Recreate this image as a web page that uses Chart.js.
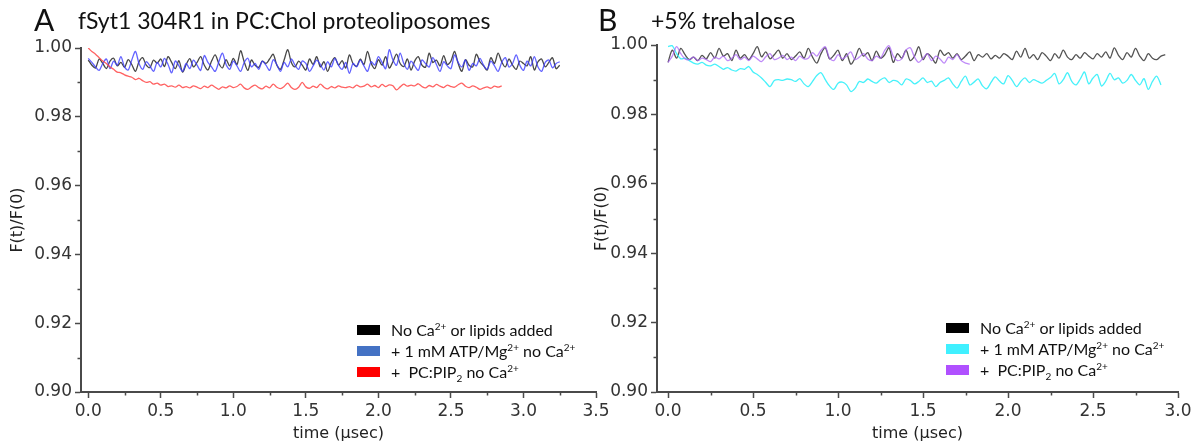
<!DOCTYPE html>
<html><head><meta charset="utf-8">
<script src="https://cdn.jsdelivr.net/npm/chart.js@4"></script>
<style>
body{margin:0;width:1196px;height:444px;background:#fff;position:relative;overflow:hidden;font-family:Lato,"Open Sans",sans-serif;color:#111}
canvas{position:absolute;top:0}
#cA{left:0}
#cB{left:590px}
.panel{position:absolute;top:2px;font-size:30px;line-height:34px}
.title{position:absolute;top:6px;font-size:23px;line-height:28px}
.legend{position:absolute;font-size:16px}
.legend .row{height:21px;display:flex;align-items:center;white-space:nowrap}
.legend .box{width:23px;height:10px;margin-right:11px;flex:none}
.sup{position:relative;top:-6px;font-size:10px}
.sub{position:relative;top:4px;font-size:10px}
</style></head>
<body>
<canvas id="cA" width="640" height="444"></canvas>
<canvas id="cB" width="606" height="444"></canvas>
<div class="panel" style="left:34px">A</div>
<div class="title" style="left:78px">fSyt1 304R1 in PC:Chol proteoliposomes</div>
<div class="panel" style="left:598px">B</div>
<div class="title" style="left:651px">+5% trehalose</div>
<div class="legend" id="legA" style="left:357px;top:319px"></div>
<div class="legend" id="legB" style="left:946px;top:317px"></div>
<script>
// ---- data (time step 0.025 µs) ----
const dt = 0.025;
const xTicksA = [0, 0.5, 1.0, 1.5, 2.0, 2.5, 3.0, 3.5];
const xMinorA = [0.25, 0.75, 1.25, 1.75, 2.25, 2.75, 3.25];
const xTicksB = [0, 0.5, 1.0, 1.5, 2.0, 2.5, 3.0];
const xMinorB = [0.25, 0.75, 1.25, 1.75, 2.25, 2.75];
const yTicks = [0.90, 0.92, 0.94, 0.96, 0.98, 1.00];
const yMinor = [0.91, 0.93, 0.95, 0.97, 0.99];

const labelsA = ['No Ca<span class="sup">2+</span> or lipids added',
  '+ 1 mM ATP/Mg<span class="sup">2+</span> no Ca<span class="sup">2+</span>',
  '+&nbsp; PC:PIP<span class="sub">2</span> no Ca<span class="sup">2+</span>'];
const labelsB = labelsA;

const blackA = [
0.9965,0.9950,0.9942,0.9968,0.9955,0.9940,0.9962,0.9970,0.9948,0.9958,
0.9944,0.9966,0.9952,0.9932,0.9960,0.9972,0.9950,0.9943,0.9965,0.9956,
0.9968,0.9946,0.9975,0.9958,0.9940,0.9963,0.9930,0.9952,0.9969,0.9945,
0.9958,0.9975,0.9950,0.9936,0.9962,0.9980,0.9955,0.9942,0.9966,0.9948,
0.9970,0.9952,0.9992,0.9960,0.9935,0.9965,0.9950,0.9944,0.9962,0.9955,
0.9968,0.9982,0.9950,0.9938,0.9965,0.9995,0.9958,0.9945,0.9962,0.9950,
0.9936,0.9968,0.9952,0.9975,0.9945,0.9960,0.9932,0.9958,0.9972,0.9950,
0.9963,0.9942,0.9980,0.9955,0.9947,0.9968,0.9952,0.9990,0.9956,0.9940,
0.9966,0.9950,0.9975,0.9942,0.9960,0.9982,0.9955,0.9946,0.9968,0.9936,
0.9962,0.9975,0.9950,0.9944,0.9985,0.9958,0.9965,0.9948,0.9978,0.9952,
0.9962,0.9990,0.9955,0.9932,0.9966,0.9950,0.9945,0.9982,0.9960,0.9948,
0.9936,0.9972,0.9955,0.9985,0.9960,0.9945,0.9968,0.9950,0.9938,0.9962,
0.9955,0.9948,0.9975,0.9936,0.9960,0.9968,0.9945,0.9958,0.9972,0.9940,
0.9950];
const blueA = [
0.9970,0.9958,0.9945,0.9935,0.9955,0.9968,0.9940,0.9962,0.9950,0.9975,
0.9945,0.9936,0.9965,0.9990,0.9955,0.9938,0.9960,0.9948,0.9932,0.9958,
0.9945,0.9970,0.9952,0.9928,0.9962,0.9948,0.9932,0.9955,0.9940,0.9965,
0.9950,0.9935,0.9978,0.9958,0.9945,0.9932,0.9960,0.9985,0.9952,0.9938,
0.9962,0.9948,0.9932,0.9958,0.9970,0.9945,0.9955,0.9938,0.9962,0.9950,
0.9935,0.9966,0.9952,0.9932,0.9958,0.9945,0.9968,0.9950,0.9938,0.9962,
0.9955,0.9932,0.9948,0.9965,0.9952,0.9936,0.9960,0.9945,0.9970,0.9950,
0.9938,0.9958,0.9926,0.9955,0.9945,0.9965,0.9948,0.9932,0.9960,0.9950,
0.9975,0.9958,0.9940,0.9995,0.9965,0.9950,0.9985,0.9955,0.9938,0.9962,
0.9948,0.9935,0.9965,0.9955,0.9945,0.9972,0.9952,0.9932,0.9960,0.9948,
0.9940,0.9980,0.9958,0.9945,0.9965,0.9935,0.9955,0.9948,0.9970,0.9950,
0.9938,0.9962,0.9948,0.9932,0.9958,0.9972,0.9945,0.9955,0.9980,0.9950,
0.9935,0.9962,0.9948,0.9975,0.9945,0.9932,0.9958,0.9965,0.9942,0.9955,
0.9960];
const redA = [
1.0000,0.9990,0.9982,0.9972,0.9962,0.9955,0.9945,0.9938,0.9930,0.9928,
0.9922,0.9918,0.9915,0.9908,0.9912,0.9905,0.9900,0.9902,0.9895,0.9898,
0.9892,0.9895,0.9888,0.9890,0.9886,0.9892,0.9885,0.9888,0.9884,0.9890,
0.9886,0.9882,0.9889,0.9885,0.9892,0.9886,0.9880,0.9887,0.9884,0.9890,
0.9885,0.9888,0.9895,0.9884,0.9880,0.9887,0.9892,0.9885,0.9881,0.9889,
0.9884,0.9895,0.9886,0.9882,0.9888,0.9898,0.9885,0.9880,0.9886,0.9900,
0.9887,0.9883,0.9889,0.9885,0.9895,0.9886,0.9881,0.9888,0.9884,0.9890,
0.9886,0.9885,0.9888,0.9884,0.9892,0.9887,0.9889,0.9895,0.9887,0.9891,
0.9885,0.9894,0.9888,0.9893,0.9890,0.9878,0.9887,0.9895,0.9889,0.9892,
0.9890,0.9896,0.9888,0.9884,0.9891,0.9887,0.9894,0.9889,0.9885,0.9892,
0.9888,0.9886,0.9893,0.9898,0.9889,0.9885,0.9890,0.9886,0.9880,0.9884,
0.9887,0.9883,0.9889,0.9886,0.9890];
const blackB = [
0.9950,0.9985,0.9962,0.9990,0.9972,0.9958,0.9965,0.9955,0.9970,0.9960,
0.9978,0.9962,0.9990,0.9968,0.9975,0.9955,0.9985,0.9962,0.9972,0.9958,
0.9975,0.9995,0.9966,0.9980,0.9960,0.9972,0.9985,0.9962,0.9975,0.9958,
0.9968,0.9980,0.9962,0.9990,0.9965,0.9948,0.9975,0.9992,0.9960,0.9970,
0.9985,0.9955,0.9975,0.9945,0.9962,0.9990,0.9968,0.9978,0.9955,0.9982,
0.9962,0.9972,0.9992,0.9950,0.9975,0.9962,0.9985,0.9955,0.9968,0.9995,
0.9958,0.9975,0.9965,0.9948,0.9985,0.9970,0.9978,0.9962,0.9975,0.9958,
0.9968,0.9980,0.9955,0.9972,0.9965,0.9975,0.9960,0.9970,0.9962,0.9975,
0.9968,0.9958,0.9982,0.9965,0.9990,0.9962,0.9972,0.9958,0.9978,0.9968,
0.9955,0.9975,0.9962,0.9985,0.9965,0.9958,0.9972,0.9962,0.9978,0.9968,
0.9960,0.9975,0.9965,0.9980,0.9962,0.9992,0.9970,0.9958,0.9978,0.9965,
0.9990,0.9968,0.9955,0.9975,0.9962,0.9958,0.9968,0.9972];
const cyanB = [
0.9995,0.9998,0.9975,0.9960,0.9962,0.9955,0.9948,0.9945,0.9950,0.9942,
0.9940,0.9945,0.9938,0.9930,0.9935,0.9928,0.9925,0.9932,0.9930,0.9938,
0.9922,0.9915,0.9905,0.9892,0.9880,0.9898,0.9900,0.9898,0.9902,0.9900,
0.9895,0.9903,0.9888,0.9880,0.9895,0.9912,0.9920,0.9900,0.9882,0.9872,
0.9890,0.9893,0.9885,0.9866,0.9875,0.9895,0.9892,0.9902,0.9895,0.9890,
0.9900,0.9905,0.9892,0.9898,0.9895,0.9885,0.9902,0.9898,0.9888,0.9895,
0.9905,0.9892,0.9896,0.9880,0.9892,0.9898,0.9905,0.9888,0.9876,0.9895,
0.9910,0.9885,0.9893,0.9902,0.9882,0.9874,0.9892,0.9908,0.9896,0.9888,
0.9912,0.9898,0.9880,0.9895,0.9905,0.9892,0.9900,0.9895,0.9890,0.9898,
0.9906,0.9918,0.9888,0.9900,0.9920,0.9895,0.9885,0.9902,0.9922,0.9888,
0.9905,0.9915,0.9882,0.9896,0.9918,0.9900,0.9905,0.9890,0.9898,0.9915,
0.9898,0.9885,0.9903,0.9872,0.9895,0.9910,0.9885];
const purpleB = [
0.9950,0.9968,0.9995,0.9975,0.9960,0.9958,0.9965,0.9955,0.9962,0.9958,
0.9952,0.9965,0.9960,0.9968,0.9955,0.9962,0.9972,0.9958,0.9965,0.9955,
0.9968,0.9960,0.9952,0.9966,0.9975,0.9958,0.9962,0.9970,0.9958,0.9965,
0.9955,0.9968,0.9960,0.9962,0.9978,0.9968,0.9985,0.9995,0.9962,0.9955,
0.9972,0.9960,0.9968,0.9980,0.9958,0.9965,0.9975,0.9960,0.9955,0.9968,
0.9962,0.9985,0.9998,0.9968,0.9955,0.9960,0.9985,0.9992,0.9965,0.9950,
0.9962,0.9975,0.9955,0.9968,0.9960,0.9948,0.9965,0.9958,0.9972,0.9955,
0.9948,0.9945];

// ---- styling ----
const AXIS = '#4a4a4a';
const TICKTXT = '#333';
const FONT = '"DejaVu Sans", sans-serif';
const toPts = arr => arr.map((v, i) => ({x: i * dt, y: v}));

const minorTicks = {
  id: 'minorTicks',
  afterDraw(chart, args, opts) {
    const ctx = chart.ctx, xs = chart.scales.x, ys = chart.scales.y;
    ctx.save(); ctx.strokeStyle = AXIS; ctx.lineWidth = 1.5;
    opts.x.forEach(v => { const p = Math.round(xs.getPixelForValue(v)) + 0.5;
      ctx.beginPath(); ctx.moveTo(p, ys.bottom); ctx.lineTo(p, ys.bottom + 3.5); ctx.stroke(); });
    opts.y.forEach(v => { const p = Math.round(ys.getPixelForValue(v)) + 0.5;
      ctx.beginPath(); ctx.moveTo(xs.left, p); ctx.lineTo(xs.left - 3.5, p); ctx.stroke(); });
    ctx.restore();
  }
};

function makeChart(id, sets, cfg) {
  return new Chart(document.getElementById(id), {
    type: 'line',
    data: { datasets: sets.map(s => ({
      label: s.label, data: toPts(s.data), borderColor: s.color, borderWidth: 1.3,
      pointRadius: 0, fill: false, tension: 0.3, order: s.order })) },
    options: {
      responsive: false, animation: false, devicePixelRatio: 1,
      layout: { padding: cfg.padding },
      plugins: { legend: { display: false }, tooltip: { enabled: false },
        minorTicks: { x: cfg.xMinor, y: yMinor } },
      scales: {
        x: { type: 'linear', min: cfg.xmin, max: cfg.xmax,
          afterBuildTicks: s => { s.ticks = cfg.xTicks.map(v => ({value: v})); },
          afterFit: s => { s.height = 52; },
          border: { color: AXIS, width: 2 },
          grid: { drawOnChartArea: false, drawTicks: true, tickLength: 6, tickColor: AXIS, tickWidth: 1.5 },
          ticks: { padding: 3, color: TICKTXT, font: { family: FONT, size: 17 }, maxRotation: 0,
            callback: v => v.toFixed(1) },
          title: { display: true, text: 'time (\u03bcsec)', color: '#222',
            font: { family: FONT, size: 16 }, padding: { top: 0, bottom: 1 } } },
        y: { type: 'linear', min: 0.90, max: 1.00,
          afterBuildTicks: s => { s.ticks = yTicks.map(v => ({value: v})); },
          afterFit: s => { s.width = cfg.yWidth; },
          border: { color: AXIS, width: 2 },
          grid: { drawOnChartArea: false, drawTicks: true, tickLength: 6, tickColor: AXIS, tickWidth: 1.5 },
          ticks: { padding: 3, color: TICKTXT, font: { family: FONT, size: 17 },
            callback: v => v.toFixed(2) },
          title: { display: true, text: 'F(t)/F(0)', color: '#222',
            font: { family: FONT, size: 16 }, padding: { top: cfg.yTitlePad, bottom: 0 } } }
      }
    },
    plugins: [minorTicks]
  });
}

makeChart('cA', [
  { label: 'No Ca2+ or lipids added', data: blackA, color: 'rgba(40,40,40,0.85)', order: 3 },
  { label: '+ 1 mM ATP/Mg2+ no Ca2+', data: blueA, color: 'rgba(60,60,255,0.8)', order: 2 },
  { label: '+ PC:PIP2 no Ca2+', data: redA, color: 'rgba(255,70,70,0.85)', order: 1 }
], { padding: {left: 0, right: 44, top: 48, bottom: 0}, yWidth: 81, yTitlePad: 8,
     xmin: -0.05, xmax: 3.5, xTicks: xTicksA, xMinor: xMinorA });

makeChart('cB', [
  { label: 'No Ca2+ or lipids added', data: blackB, color: 'rgba(40,40,40,0.8)', order: 3 },
  { label: '+ 1 mM ATP/Mg2+ no Ca2+', data: cyanB, color: 'rgba(50,240,250,0.9)', order: 2 },
  { label: '+ PC:PIP2 no Ca2+', data: purpleB, color: 'rgba(170,100,245,0.75)', order: 1 }
], { padding: {left: 0, right: 18, top: 45, bottom: 0}, yWidth: 67, yTitlePad: 2,
     xmin: -0.065, xmax: 3.0, xTicks: xTicksB, xMinor: xMinorB });

function legend(id, labels, colors) {
  document.getElementById(id).innerHTML = labels.map((l, i) =>
    '<div class="row"><span class="box" style="background:' + colors[i] + '"></span><span>' + l + '</span></div>').join('');
}
legend('legA', labelsA, ['#000000', '#4472c4', '#ff0000']);
legend('legB', labelsB, ['#000000', '#40f0ff', '#b050ff']);
</script>
</body></html>
